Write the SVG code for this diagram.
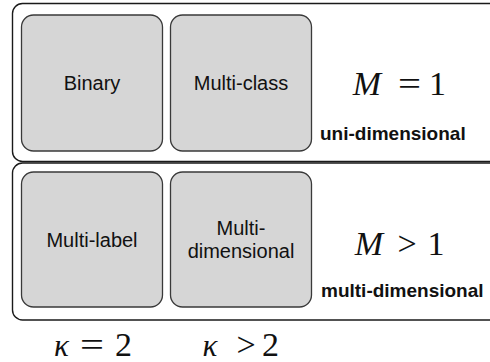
<svg xmlns="http://www.w3.org/2000/svg" width="490" height="362" viewBox="0 0 490 362">
  <style>
    .band { fill: #ffffff; stroke: #1a1a1a; stroke-width: 1.4; }
    .cell { fill: #d6d6d6; stroke: #3a3a3a; stroke-width: 1.3; }
    .label { font-family: "Liberation Sans", Arial, sans-serif; font-size: 20px; fill: #111; text-anchor: middle; }
    .caption { font-family: "Liberation Sans", Arial, sans-serif; font-size: 19px; font-weight: bold; fill: #111; }
    .math { font-family: "Liberation Serif", "Times New Roman", serif; font-size: 34px; fill: #111; text-anchor: middle; }
    .var { font-style: italic; }
    .kappa { font-size: 31px; }
  </style>
  <rect width="490" height="362" fill="#ffffff"/>

  <!-- M = 1 band -->
  <g id="band-uni">
    <rect class="band" x="12.5" y="3.5" width="500" height="158" rx="10"/>
    <text class="math var" x="367" y="95">M</text>
    <text class="math" transform="translate(409.5 95) scale(1.2 1)">=</text>
    <text class="math" x="437.5" y="95">1</text>
    <text class="caption" x="320" y="140">uni-dimensional</text>
  </g>

  <!-- M > 1 band -->
  <g id="band-multi">
    <rect class="band" x="12.5" y="163" width="500" height="157" rx="10"/>
    <text class="math var" x="369" y="255">M</text>
    <text class="math" x="407" y="255">&gt;</text>
    <text class="math" x="436" y="255">1</text>
    <text class="caption" x="321" y="297">multi-dimensional</text>
  </g>

  <g id="binary">
    <rect class="cell" x="21.5" y="15" width="141" height="136" rx="12"/>
    <text class="label" x="92" y="90">Binary</text>
  </g>

  <g id="multi-class">
    <rect class="cell" x="170.5" y="15" width="141" height="136" rx="12"/>
    <text class="label" x="241" y="90">Multi-class</text>
  </g>

  <g id="multi-label">
    <rect class="cell" x="21.5" y="172" width="141" height="135" rx="12"/>
    <text class="label" x="92" y="247">Multi-label</text>
  </g>

  <g id="multi-dimensional">
    <rect class="cell" x="170.5" y="172" width="141" height="135" rx="12"/>
    <text class="label" x="241" y="235">Multi-</text>
    <text class="label" x="241" y="258">dimensional</text>
  </g>

  <!-- column conditions -->
  <g id="kappa-2">
    <text class="math var kappa" x="61.5" y="356">κ</text>
    <text class="math" transform="translate(92 356) scale(1.25 1)">=</text>
    <text class="math" x="123.5" y="356">2</text>
  </g>
  <g id="kappa-gt-2">
    <text class="math var kappa" x="210" y="356">κ</text>
    <text class="math" x="246" y="356">&gt;</text>
    <text class="math" x="270.5" y="356">2</text>
  </g>
</svg>
